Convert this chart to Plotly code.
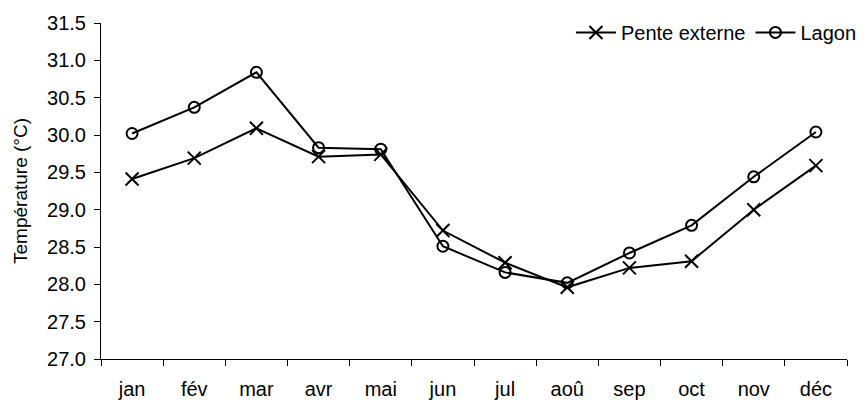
import plotly.graph_objects as go

months = ["jan", "fév", "mar", "avr", "mai", "jun", "jul", "aoû", "sep", "oct", "nov", "déc"]
pente_externe = [29.41, 29.69, 30.09, 29.71, 29.74, 28.72, 28.29, 27.96, 28.22, 28.31, 29.00, 29.59]
lagon = [30.02, 30.37, 30.84, 29.83, 29.81, 28.51, 28.16, 28.02, 28.42, 28.79, 29.44, 30.04]

fig = go.Figure()
fig.add_trace(go.Scatter(
    x=months, y=pente_externe, name="Pente externe", mode="lines+markers",
    line=dict(color="black", width=2),
    marker=dict(symbol="x-thin-open", size=13, color="black", line=dict(color="black", width=2)),
))
fig.add_trace(go.Scatter(
    x=months, y=lagon, name="Lagon", mode="lines+markers",
    line=dict(color="black", width=2),
    marker=dict(symbol="circle-open", size=11, color="black", line=dict(color="black", width=2)),
))

fig.update_layout(
    width=859, height=394,
    margin=dict(l=93, r=5, t=11, b=43),
    paper_bgcolor="white", plot_bgcolor="white",
    font=dict(family="Liberation Sans, Arial, sans-serif", size=20, color="black"),
    showlegend=True,
    legend=dict(orientation="h", x=1.02, xanchor="right", y=1.03, yanchor="top",
                bgcolor="rgba(0,0,0,0)", font=dict(size=20), itemwidth=40,
                tracegroupgap=0),
)
fig.update_xaxes(
    type="category", showgrid=False, showline=True, linecolor="black", linewidth=1,
    ticks="outside", tickson="boundaries", ticklen=6, tickcolor="black",
    tickfont=dict(size=20), range=[-0.5, 11.5], automargin=False,
    ticklabelstandoff=12,
)
fig.update_yaxes(
    range=[27, 31.5], dtick=0.5, tick0=27, tickformat=".1f", showgrid=False,
    showline=True, linecolor="black", linewidth=1, ticks="outside", ticklen=6,
    tickcolor="black", tickfont=dict(size=20), zeroline=False, automargin=False,
    ticklabelstandoff=4,
    title=dict(text="Température (°C)", font=dict(size=19), standoff=14),
)

fig.write_html("out.html")
